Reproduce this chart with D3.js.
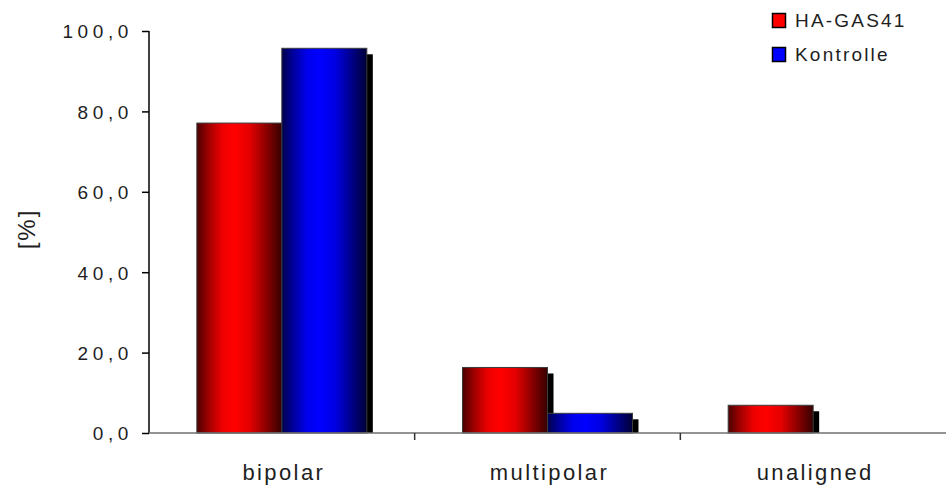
<!DOCTYPE html>
<html>
<head>
<meta charset="utf-8">
<script src="https://cdn.jsdelivr.net/npm/d3@7"></script>
<style>
  html, body { margin: 0; padding: 0; background: #fff; }
  svg { display: block; }
  text { font-family: "Liberation Sans", Arial, sans-serif; fill: #1e1e1e; }
</style>
</head>
<body>
<svg id="chart" width="946" height="488"></svg>
<script>
// Share of spindle phenotypes per condition, in percent
const categories = ["bipolar", "multipolar", "unaligned"];
const seriesNames = ["HA-GAS41", "Kontrolle"];
const haGas41 = [77.1, 16.3, 6.9];
const kontrolle = [95.7, 4.9, 0];
const yTicks = [0, 20, 40, 60, 80, 100];

const seriesValues = [haGas41, kontrolle];
const seriesColors = ["#ff0000", "#0000ff"];
const seriesDark = ["#2a0000", "#00002a"];

const svg = d3.select("#chart");
const plot = { left: 149, right: 946, top: 31, bottom: 433 };

const x = d3.scaleBand().domain(categories).range([plot.left, plot.right]).paddingInner(0).paddingOuter(0);
const xs = d3.scaleBand().domain(seriesNames).range([0, x.bandwidth()]).paddingInner(0).paddingOuter(0.563);
const y = d3.scaleLinear().domain([0, 100]).range([plot.bottom, plot.top]);

// Horizontal cylinder-like shading for each series
const defs = svg.append("defs");
seriesNames.forEach((name, i) => {
  const g = defs.append("linearGradient")
    .attr("id", "grad" + i).attr("x1", "0%").attr("x2", "100%").attr("y1", "0%").attr("y2", "0%");
  const c = d3.color(seriesColors[i]);
  const mix = t => d3.interpolateRgb(seriesDark[i], c)(t);
  const stops = [
    [0, mix(0.15)],
    [0.12, mix(0.5)],
    [0.3, mix(0.92)],
    [0.45, c.formatHex()],
    [0.62, mix(0.88)],
    [0.82, mix(0.45)],
    [1, mix(0.05)]
  ];
  stops.forEach(([o, col]) => g.append("stop").attr("offset", o).attr("stop-color", col));
});

// Bars: shadow first, then the face, series after series so later bars overlap earlier shadows
const shadow = 6;
const bars = [];
categories.forEach((cat, ci) => {
  seriesNames.forEach((s, si) => {
    bars.push({ cat, s, si, v: seriesValues[si][ci] });
  });
});

const gBars = svg.append("g");
bars.forEach(d => {
  if (d.v <= 0) return;
  const bx = x(d.cat) + xs(d.s);
  const bw = xs.bandwidth();
  const by = y(d.v);
  const bh = y(0) - by;
  gBars.append("rect")
    .attr("x", bx + shadow).attr("y", by + shadow)
    .attr("width", bw).attr("height", Math.max(0, bh - shadow))
    .attr("fill", "#000");
  gBars.append("rect")
    .attr("x", bx).attr("y", by)
    .attr("width", bw).attr("height", bh)
    .attr("fill", `url(#grad${d.si})`)
    .attr("stroke", "#3c3c3c").attr("stroke-width", 1);
});

// Y axis
const yAxis = d3.axisLeft(y).tickValues(yTicks).tickSize(7).tickPadding(9)
  .tickFormat(v => d3.format(".1f")(v).replace(".", ","));
const gy = svg.append("g").attr("transform", `translate(${plot.left},0)`).call(yAxis);
gy.attr("font-family", null);
gy.select(".domain").attr("stroke", "#000").attr("stroke-width", 1.5).attr("d", `M0,${plot.top}V${plot.bottom}`);
gy.selectAll(".tick line").attr("stroke", "#000").attr("stroke-width", 1.5);
gy.selectAll(".tick text")
  .style("font-size", "19px").style("letter-spacing", "4.6px")
  .attr("dy", "0.36em").attr("fill", "#1e1e1e");

// X axis
const xAxis = d3.axisBottom(x).tickSize(0).tickPadding(0).tickFormat(() => "");
const gx = svg.append("g").attr("transform", `translate(0,${plot.bottom})`).call(xAxis);
gx.attr("font-family", null);
gx.select(".domain").attr("stroke", "#707070").attr("stroke-width", 1.5).attr("d", `M${plot.left},0H${plot.right}`);
gx.selectAll(".tick").remove();
// category separators
const seps = categories.slice(1).map(c => x(c));
gx.selectAll("line.sep").data(seps).join("line")
  .attr("class", "sep")
  .attr("x1", d => d).attr("x2", d => d).attr("y1", 0).attr("y2", 7)
  .attr("stroke", "#333").attr("stroke-width", 1.5);
gx.selectAll("text.cat").data(categories).join("text")
  .attr("class", "cat")
  .attr("x", d => x(d) + x.bandwidth() / 2 + 2)
  .attr("y", 47)
  .attr("text-anchor", "middle")
  .style("font-size", "22px").style("letter-spacing", "2.4px")
  .text(d => d);

// Y title
svg.append("text")
  .attr("transform", "translate(35,229) rotate(-90)")
  .attr("text-anchor", "middle")
  .style("font-size", "24px").style("letter-spacing", "2px")
  .text("[%]");

// Legend
const legend = svg.append("g").attr("transform", "translate(772,13)");
seriesNames.forEach((s, i) => {
  const row = legend.append("g").attr("transform", `translate(0,${i * 34})`);
  row.append("rect").attr("x", 0.5).attr("y", 0.5).attr("width", 13).attr("height", 14)
    .attr("fill", seriesColors[i]).attr("stroke", "#000").attr("stroke-width", 1.5);
  row.append("text").attr("x", 23).attr("y", 14)
    .style("font-size", "19px").style("letter-spacing", "2.2px")
    .text(s);
});
</script>
</body>
</html>
